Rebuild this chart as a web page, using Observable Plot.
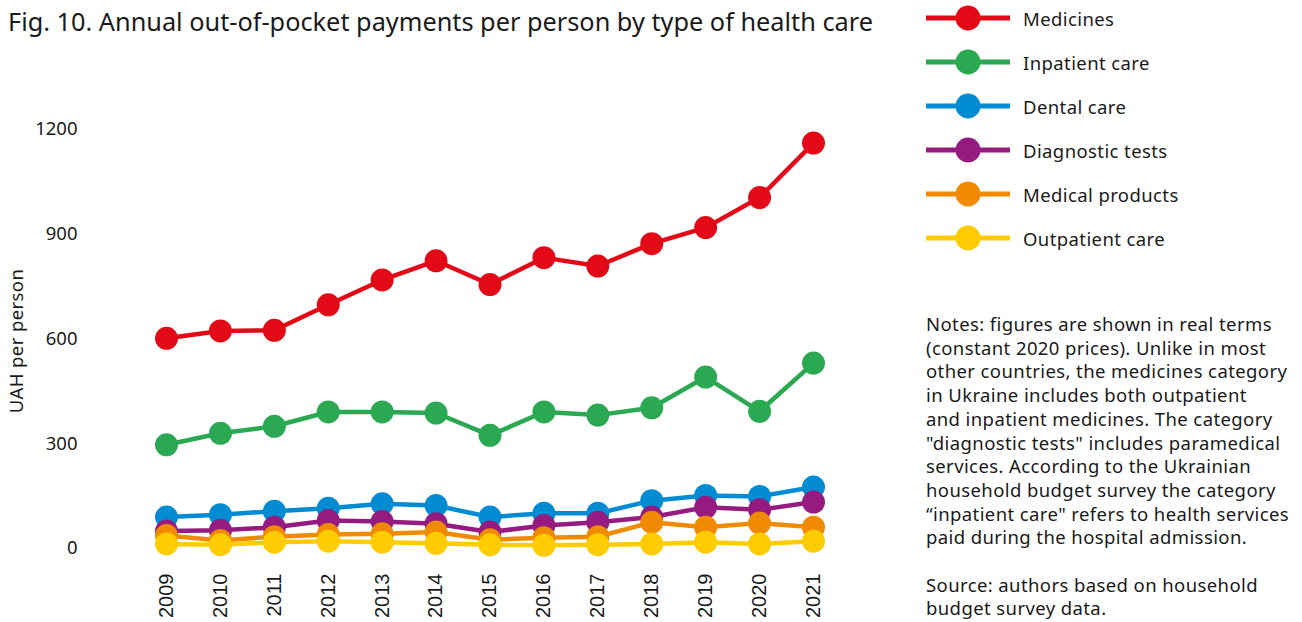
<!DOCTYPE html>
<html><head><meta charset="utf-8">
<script src="https://cdn.jsdelivr.net/npm/d3@7"></script>
<script src="https://cdn.jsdelivr.net/npm/@observablehq/plot@0.6"></script>
<style>
body{margin:0;width:1302px;height:622px;position:relative;overflow:hidden;background:#fff;font-family:"Noto Sans",sans-serif;color:#1a1a1a}
#title{position:absolute;left:8px;top:4px;font-size:25.3px;white-space:nowrap}
#chart{position:absolute;left:0;top:40px}
#ylabel{position:absolute;left:15px;top:341px;font-size:18.5px;letter-spacing:0.4px;white-space:nowrap;transform:translate(-50%,-50%) rotate(-90deg)}
.row{position:absolute;left:926px;height:30px;display:flex;align-items:center}
.row span{font-size:18.5px;letter-spacing:0.4px;margin-left:13px;white-space:nowrap}
#notes{position:absolute;left:926px;top:312px;font-size:18.5px;letter-spacing:0.4px;line-height:23.7px;white-space:nowrap}
</style></head><body>
<div id="title">Fig. 10. Annual out-of-pocket payments per person by type of health care</div>
<div id="ylabel">UAH per person</div>
<div id="chart"></div>
<div id="legend"></div>
<div id="notes">Notes: figures are shown in real terms<br>(constant 2020 prices). Unlike in most<br>other countries, the medicines category<br>in Ukraine includes both outpatient<br>and inpatient medicines. The category<br>"diagnostic tests" includes paramedical<br>services. According to the Ukrainian<br>household budget survey the category<br>“inpatient care" refers to health services<br>paid during the hospital admission.<br><br>Source: authors based on household<br>budget survey data.</div>
<script>
const years = [2009,2010,2011,2012,2013,2014,2015,2016,2017,2018,2019,2020,2021];
const seriesNames = ["Medicines","Inpatient care","Dental care","Diagnostic tests","Medical products","Outpatient care"];
const seriesColors = ["#e20a16","#2aa852","#008bd2","#951b81","#f08a00","#fecc00"];
const medicines = [602,623,625,698,769,824,756,833,809,873,919,1005,1161];
const inpatientCare = [297,330,350,391,391,388,324,391,382,403,491,393,531];
const dentalCare = [90,97,107,115,128,123,90,101,101,137,152,149,176];
const diagnosticTests = [50,52,61,80,77,71,47,66,75,90,118,111,133];
const medicalProducts = [37,23,34,40,42,47,25,31,34,75,61,73,61];
const outpatientCare = [13,11,18,21,18,15,11,9,11,13,18,13,21];
const yTicks = [0,300,600,900,1200];

const seriesValues = [medicines,inpatientCare,dentalCare,diagnosticTests,medicalProducts,outpatientCare];
const data = seriesNames.flatMap((s,i)=>years.map((y,j)=>({series:s,year:y,value:seriesValues[i][j]})));

const marks = [];
seriesNames.forEach(s=>{
  const d = data.filter(r=>r.series===s);
  marks.push(Plot.line(d,{x:"year",y:"value",stroke:"series",strokeWidth:4.5}));
  marks.push(Plot.dot(d,{x:"year",y:"value",fill:"series",r:11.5}));
});

const chart = Plot.plot({
  width:890, height:582,
  marginLeft:166, marginRight:77, marginTop:89, marginBottom:74,
  style:{fontFamily:'"Noto Sans",sans-serif', color:"#1a1a1a", background:"transparent"},
  x:{domain:[2009,2021]},
  y:{domain:[0,1200]},
  color:{domain:seriesNames, range:seriesColors},
  marks:[
    Plot.axisY({ticks:yTicks, tickFormat:d3.format("d"), tickSize:0, tickPadding:89, fontSize:18.5, label:null}),
    Plot.axisX({ticks:years, tickFormat:d3.format("d"), tickRotate:-90, tickSize:0, tickPadding:25, fontSize:20, fontFamily:'"Liberation Sans",Arial,sans-serif', label:null}),
    ...marks
  ]
});
document.getElementById("chart").appendChild(chart);

const legend = document.getElementById("legend");
seriesNames.forEach((s,i)=>{
  const row = document.createElement("div");
  row.className="row";
  row.style.top = (18 + 44*i - 15) + "px";
  row.innerHTML = `<svg width="84" height="30"><line x1="0" x2="84" y1="15" y2="15" stroke="${seriesColors[i]}" stroke-width="5"/><circle cx="42" cy="15" r="12.5" fill="${seriesColors[i]}"/></svg><span>${s}</span>`;
  legend.appendChild(row);
});
</script>
</body></html>
